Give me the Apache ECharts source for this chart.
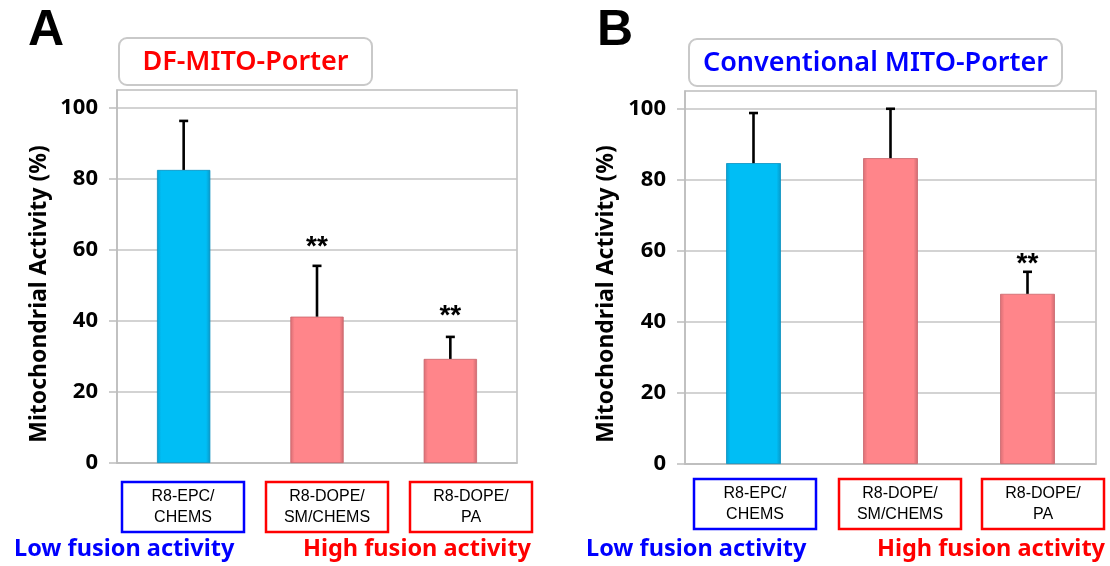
<!DOCTYPE html>
<html>
<head>
<meta charset="utf-8">
<script src="https://cdn.jsdelivr.net/npm/echarts@6/dist/echarts.min.js"></script>
<style>html,body{margin:0;padding:0;background:#fff;}#c{width:1110px;height:566px;}</style>
</head>
<body>
<div id="c"></div>
<script>
// ---- data ----
const categories = ['R8-EPC/\nCHEMS', 'R8-DOPE/\nSM/CHEMS', 'R8-DOPE/\nPA'];
const valuesA = [82.5, 41.2, 29.3];
const errorsA = [13.8, 14.3, 6.2];
const starsA = ['', '**', '**'];
const starLevelA = [null, 62.3, 43.1];
const valuesB = [84.7, 86.1, 47.9];
const errorsB = [14.1, 13.9, 6.2];
const starsB = ['', '', '**'];
const starLevelB = [null, null, 58.0];
const yTicks = [0, 20, 40, 60, 80, 100];
const panelTitles = ['DF-MITO-Porter', 'Conventional MITO-Porter'];
const panelLetters = ['A', 'B'];
const fusionLabels = ['Low fusion activity', 'High fusion activity'];
const yAxisTitle = 'Mitochondrial Activity (%)';
const categoryGroup = ['low', 'high', 'high'];

// ---- styles ----
const BLUE = '#0000ff', RED = '#ff0000';
function barGrad(group) {
  const c = group === 'low'
    ? ['#0a9fd0', '#00bef5', '#00bef5', '#0898c8']
    : ['#d86e74', '#ff858a', '#ff858a', '#cf6a70'];
  return new echarts.graphic.LinearGradient(0, 0, 1, 0, [
    {offset: 0, color: c[0]}, {offset: 0.08, color: c[1]},
    {offset: 0.92, color: c[2]}, {offset: 1, color: c[3]}
  ]);
}

const chart = echarts.init(document.getElementById('c'), null, {renderer: 'canvas'});

const grids = [
  {left: 117, right: 593, top: 90, bottom: 103},
  {left: 685, right: 14, top: 91, bottom: 102}
];

function yAxisCfg(i) {
  return {
    type: 'value', gridIndex: i, min: 0, max: 105, interval: 20,
    axisLine: {show: true, lineStyle: {color: '#bdbdbd', width: 1.5}},
    axisTick: {show: true, length: 8, lineStyle: {color: '#bdbdbd', width: 1.5},
      customValues: yTicks},
    splitLine: {show: true, lineStyle: {color: '#c4c4c4', width: 1.5}},
    axisLabel: {
      customValues: yTicks,
      color: '#000', fontFamily: 'Open Sans', fontWeight: 'bold', fontSize: 22, margin: 19
    }
  };
}
function xAxisCfg(i) {
  return {
    type: 'category', gridIndex: i, data: categories,
    axisLine: {show: true, lineStyle: {color: '#bdbdbd', width: 1.5}},
    axisTick: {show: false}, axisLabel: {show: false}, splitLine: {show: false}
  };
}

function barSeries(i, vals) {
  return {
    type: 'bar', xAxisIndex: i, yAxisIndex: i, barWidth: '40%',
    data: vals.map((v, k) => ({value: v, itemStyle: {color: barGrad(categoryGroup[k]),
      borderColor: categoryGroup[k] === 'low' ? '#0890c0' : '#c9656b', borderWidth: 0.8}})),
    z: 2
  };
}
function errSeries(i, vals, errs) {
  return {
    type: 'custom', xAxisIndex: i, yAxisIndex: i, z: 3,
    data: vals.map((v, k) => [k, v, v + errs[k]]),
    renderItem: function (params, api) {
      const base = api.coord([api.value(0), api.value(1)]);
      const top = api.coord([api.value(0), api.value(2)]);
      const st = {stroke: '#000', lineWidth: 2.6};
      return {type: 'group', children: [
        {type: 'line', shape: {x1: base[0], y1: base[1], x2: top[0], y2: top[1]}, style: st},
        {type: 'line', shape: {x1: top[0] - 4.5, y1: top[1], x2: top[0] + 4.5, y2: top[1]}, style: st}
      ]};
    }
  };
}
function starSeries(i, stars, levels) {
  return {
    type: 'custom', xAxisIndex: i, yAxisIndex: i, z: 4,
    data: stars.map((s, k) => [k, levels[k] == null ? 0 : levels[k], s]).filter(d => d[2] !== ''),
    renderItem: function (params, api) {
      const p = api.coord([api.value(0), api.value(1)]);
      return {type: 'text', style: {text: stars[api.value(0)], x: p[0], y: p[1] + 6,
        align: 'center', verticalAlign: 'middle', fill: '#000',
        font: 'bold 28px "Liberation Sans", Arial'}};
    }
  };
}

// annotation boxes
const graphics = [];
const letterPos = [[28, 6], [597, 6]];
panelLetters.forEach((t, i) => graphics.push({type: 'text', left: letterPos[i][0], top: letterPos[i][1],
  style: {text: t, font: 'bold 50px "Liberation Sans", Arial', fill: '#000'}}));
const titleBoxes = [[119, 38, 253, 47, RED], [689, 39, 373, 47, BLUE]];
panelTitles.forEach((t, i) => {
  const b = titleBoxes[i];
  graphics.push({type: 'rect', shape: {x: b[0], y: b[1], width: b[2], height: b[3], r: 8},
    style: {fill: '#fff', stroke: '#c9c9c9', lineWidth: 2}});
  graphics.push({type: 'text', x: b[0] + b[2] / 2, y: b[1] + b[3] / 2 + 1,
    style: {text: t, align: 'center', verticalAlign: 'middle', fill: b[4],
      font: '600 27px "Noto Sans", "Open Sans", sans-serif'}});
});
const axTitlePos = [[39, 294], [606, 294]];
axTitlePos.forEach(p => graphics.push({type: 'text', x: p[0], y: p[1], rotation: Math.PI / 2,
  style: {text: yAxisTitle, align: 'center', verticalAlign: 'middle', fill: '#000',
    font: 'bold 23px "Noto Sans", "Open Sans", sans-serif'}}));
const catBoxes = [
  [[122, 482], [266, 482], [410, 482]],
  [[694, 479], [839, 479], [982, 479]]
];
catBoxes.forEach(row => row.forEach((p, k) => {
  const col = categoryGroup[k] === 'low' ? BLUE : RED;
  graphics.push({type: 'rect', shape: {x: p[0], y: p[1], width: 122, height: 50},
    style: {fill: '#fff', stroke: col, lineWidth: 2.5}});
  graphics.push({type: 'text', x: p[0] + 61, y: p[1] + 25,
    style: {text: categories[k], align: 'center', verticalAlign: 'middle', fill: '#000',
      lineHeight: 21, font: '16px "Liberation Sans", Arial'}});
}));
const fusionPos = [[[14, 549], [303, 549]], [[586, 549], [877, 549]]];
fusionPos.forEach(row => row.forEach((p, k) => graphics.push({type: 'text', x: p[0], y: p[1],
  style: {text: fusionLabels[k], align: 'left', verticalAlign: 'middle', fill: k === 0 ? BLUE : RED,
    font: 'bold 23.5px "Noto Sans", "Open Sans", sans-serif'}})));

chart.setOption({
  animation: false,
  backgroundColor: '#fff',
  grid: grids.map(g => Object.assign({show: true, borderColor: '#bdbdbd', borderWidth: 1.5,
    backgroundColor: '#fff', containLabel: false}, g)),
  xAxis: [xAxisCfg(0), xAxisCfg(1)],
  yAxis: [yAxisCfg(0), yAxisCfg(1)],
  series: [
    barSeries(0, valuesA), errSeries(0, valuesA, errorsA), starSeries(0, starsA, starLevelA),
    barSeries(1, valuesB), errSeries(1, valuesB, errorsB), starSeries(1, starsB, starLevelB)
  ],
  graphic: graphics
});
</script>
</body>
</html>
